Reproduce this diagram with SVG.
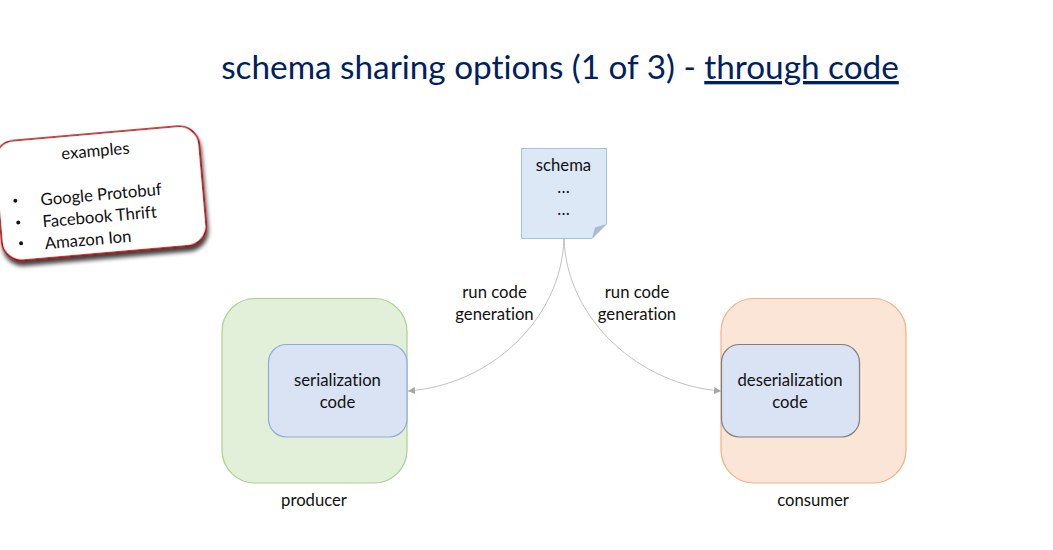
<svg xmlns="http://www.w3.org/2000/svg" width="1053" height="550" viewBox="0 0 1053 550">
<style>
text{font-family:Lato,Carlito,"Open Sans",sans-serif;fill:#111;font-size:16.7px;text-anchor:middle;font-variant-ligatures:none}
.c{fill:none;stroke:#a6a6a6;stroke-width:.7;marker-end:url(#a)}
</style>
<defs>
<marker id="a" markerUnits="userSpaceOnUse" markerWidth="8" markerHeight="8" refX="7" refY="3.500" orient="auto"><path d="M0 0L7 3.500L0 7z" fill="#a6a6a6"/></marker>
<filter id="s" x="-10%" y="-10%" width="125%" height="130%"><feDropShadow dx="1" dy="5" stdDeviation="2" flood-color="#000" flood-opacity=".75"/></filter>
</defs>
<rect width="1053" height="550" fill="#fff"/>
<text id="title" x="560" y="79" style="font-size:33.300px;fill:#002060">schema sharing options (1 of 3) - <tspan text-decoration="underline">through code</tspan></text>
<g id="examples" transform="rotate(-5 103 193)">
<rect x="-2" y="133" width="205" height="120" rx="20" fill="#fff" stroke="#b00000" stroke-width="1.600" filter="url(#s)"/>
<text x="99" y="156">examples</text>
<g style="text-anchor:start">
<text x="101" y="200">Google Protobuf</text>
<text x="97.500" y="222">Facebook Thrift</text>
<text x="84" y="244">Amazon Ion</text>
<circle cx="15" cy="193" r="2" fill="#111"/><circle cx="16" cy="215" r="2" fill="#111"/><circle cx="17" cy="236" r="2" fill="#111"/>
</g>
</g>
<g id="schema">
<path d="M521.500 148.500H606.500V224L592 238.500H521.500Z" fill="#dde8f6" stroke="#9dc3e6"/>
<path d="M592 238.500L595 227.500L606.500 224Z" fill="#a9bcd2"/>
<text x="563.500" y="171">schema</text><text x="563.500" y="193">…</text><text x="563.500" y="215">…</text>
</g>
<g id="producer">
<rect x="222" y="298.500" width="185" height="184.500" rx="33" fill="#e2efd9" stroke="#a9d18e" stroke-width="1.200"/>
<text x="314" y="505.500">producer</text>
</g>
<g id="serialization">
<rect x="268.500" y="344.500" width="138.500" height="92.500" rx="18" fill="#dae3f3" stroke="#8faadc" stroke-width="1.200"/>
<text x="337.500" y="385.500">serialization</text><text x="337.500" y="407.500">code</text>
</g>
<g id="consumer">
<rect x="721" y="298.500" width="185" height="184.500" rx="33" fill="#fbe5d6" stroke="#f4b183" stroke-width="1.200"/>
<text x="813" y="505.500">consumer</text>
</g>
<g id="deserialization">
<rect x="721.500" y="344.500" width="138" height="92.500" rx="18" fill="#dae3f3" stroke="#7f7f7f" stroke-width="1.200"/>
<text x="790" y="385.500">deserialization</text><text x="790" y="407.500">code</text>
</g>
<g id="connectors">
<path class="c" d="M564 239C561 320 490 385 408 391"/>
<path class="c" d="M564 239C567 320 640 385 721 391"/>
</g>
<g id="labels">
<text x="494.500" y="297.500">run code</text><text x="494.500" y="319.500">generation</text>
<text x="637" y="297.500">run code</text><text x="637" y="319.500">generation</text>
</g>
</svg>
